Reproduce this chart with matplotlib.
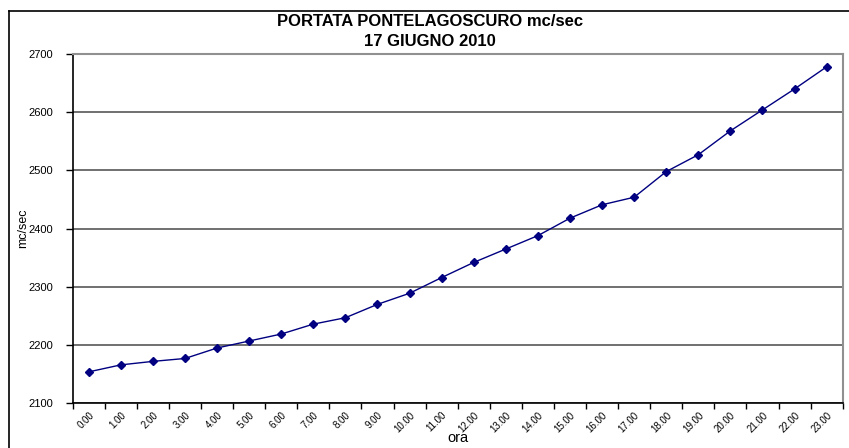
import matplotlib
matplotlib.use("Agg")
from matplotlib import pyplot as plt
from matplotlib.lines import Line2D
from matplotlib.ticker import FixedLocator, NullFormatter
from matplotlib.transforms import ScaledTranslation

plt.rcParams['font.family'] = ['Liberation Sans', 'DejaVu Sans']

# ore del giorno e portata
hours = [f"{h}.00" for h in range(24)]
portata = [2154, 2166, 2172, 2177, 2195, 2207, 2219, 2236, 2247, 2270,
           2289, 2316, 2342, 2365, 2388, 2418, 2441, 2454, 2498, 2527,
           2568, 2604, 2640, 2678]
y_ticks = [2100, 2200, 2300, 2400, 2500, 2600, 2700]

W, H = 849, 448
fig = plt.figure(figsize=(W / 100, H / 100), dpi=100)

# cornice dell'area grafico
fig.add_artist(Line2D([9 / W, 9 / W], [0, 1 - 11 / H], color='black', lw=1.2))
fig.add_artist(Line2D([9 / W, 1], [1 - 11 / H, 1 - 11 / H], color='black', lw=1.2))

left, right, top, bottom = 72.7, 842.7, 54, 403.3
ax = fig.add_axes([left / W, 1 - bottom / H, (right - left) / W, (bottom - top) / H])

x = list(range(len(hours)))
ax.plot(x, portata, color='#000080', lw=1, marker='D', markersize=4.5, zorder=3)

ax.set_xlim(-0.5, len(hours) - 0.5)
ax.set_ylim(y_ticks[0], y_ticks[-1])
ax.set_yticks(y_ticks)
ax.yaxis.grid(True, color='#707070', lw=1.4)
ax.set_axisbelow(True)

# tacche ai confini delle categorie, etichette al centro
ax.xaxis.set_major_locator(FixedLocator([i - 0.5 for i in range(len(hours) + 1)]))
ax.xaxis.set_major_formatter(NullFormatter())
ax.xaxis.set_minor_locator(FixedLocator(x))
labels = ax.set_xticklabels(hours, minor=True, rotation=45, ha='right',
                            rotation_mode='anchor', fontsize=7)
shift = ScaledTranslation(-5 / 100, 0, fig.dpi_scale_trans)
for lab in labels:
    lab.set_transform(lab.get_transform() + shift)
ax.tick_params(axis='x', which='major', length=4, width=1, direction='out')
ax.tick_params(axis='x', which='minor', length=0, pad=5)
ax.tick_params(axis='y', length=5, width=1, direction='out', labelsize=8, pad=9)

for side in ('top', 'right'):
    ax.spines[side].set_color('#909090')
    ax.spines[side].set_linewidth(1.5)
for side in ('left', 'bottom'):
    ax.spines[side].set_color('black')
    ax.spines[side].set_linewidth(1.2)

ax.set_ylabel('mc/sec', fontsize=9)
ax.yaxis.set_label_coords((29 - left) / (right - left), 0.5)
ax.set_xlabel('ora', fontsize=10.5)
ax.xaxis.set_label_coords(0.5, -(431 - bottom) / (bottom - top))

fig.text(430 / W, 1 - 22 / H, 'PORTATA PONTELAGOSCURO mc/sec', ha='center', va='center',
         fontsize=12, fontweight='bold')
fig.text(430 / W, 1 - 41 / H, '17 GIUGNO 2010', ha='center', va='center',
         fontsize=12, fontweight='bold')

fig.savefig('out.png', dpi=100)
